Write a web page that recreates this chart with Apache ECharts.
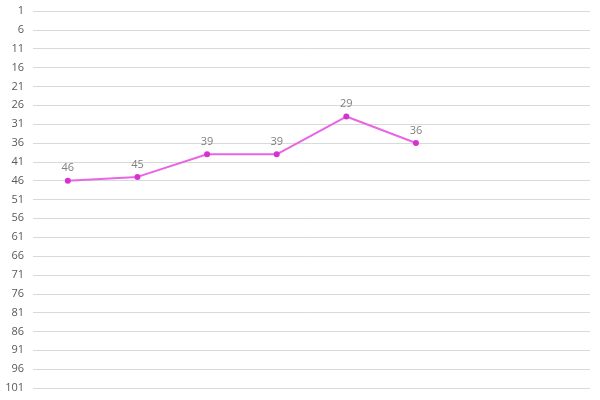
<!DOCTYPE html>
<html>
<head>
<meta charset="utf-8">
<script src="https://cdn.jsdelivr.net/npm/echarts@6/dist/echarts.min.js"></script>
<style>html,body{margin:0;padding:0;background:#fff}#c{width:600px;height:400px}</style>
</head>
<body>
<div id="c"></div>
<script>
const categories = ['1','2','3','4','5','6','7','8'];
const values = [46, 45, 39, 39, 29, 36, null, null];
const yMin = 1, yMax = 101, yStep = 5;

const chart = echarts.init(document.getElementById('c'));
chart.setOption({
  animation: false,
  grid: {left: 33, right: 10, top: 11, bottom: 12, containLabel: false},
  xAxis: {
    type: 'category', data: categories, boundaryGap: true,
    axisLine: {show: false}, axisTick: {show: false}, axisLabel: {show: false}
  },
  yAxis: {
    type: 'value', inverse: true, min: yMin, max: yMax, interval: yStep,
    axisLine: {show: false}, axisTick: {show: false},
    axisLabel: {color: '#595959', fontSize: 11, fontFamily: 'Open Sans', margin: 9},
    splitLine: {lineStyle: {color: '#d9d9d9', width: 1}}
  },
  series: [{
    type: 'line', data: values,
    symbol: 'circle', symbolSize: 6,
    lineStyle: {color: '#e866e4', width: 2},
    itemStyle: {color: '#d632d2'},
    label: {show: true, position: 'top', color: '#7f7f7f', fontSize: 11, fontFamily: 'Open Sans', distance: 4}
  }]
});
</script>
</body>
</html>
